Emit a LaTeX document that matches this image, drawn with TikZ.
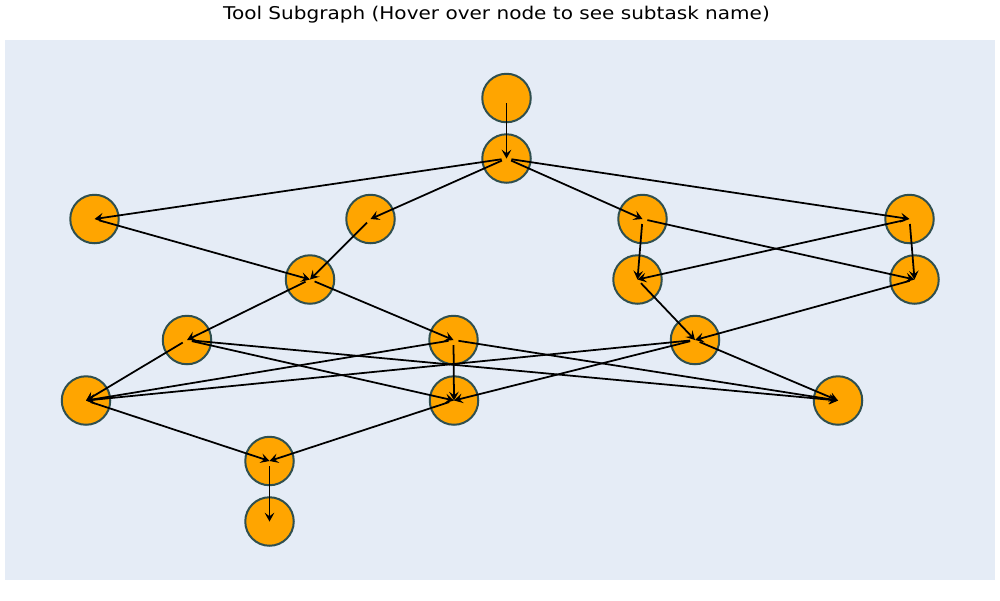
\documentclass[tikz,border=0pt]{standalone}
\usepackage{xcolor}
\usepackage{fontspec}
\newfontfamily\titlefont[FakeStretch=1.14]{DejaVu Sans}
\usetikzlibrary{arrows.meta}
\definecolor{plotbg}{HTML}{E5ECF6}
\definecolor{taskfill}{HTML}{FFA500}
\definecolor{taskline}{HTML}{2F4F4F}

\begin{document}
\begin{tikzpicture}[x=0.02cm, y=-0.02cm]
            \tikzset{task/.style={circle, fill=taskfill, draw=taskline, line width=0.04cm, minimum size=0.97cm, inner sep=0pt}}
            \tikzset{edge/.style={line width=1pt, -{Stealth[length=5pt, width=5.5pt, inset=2pt]}, shorten <=0.1cm}}
            \useasboundingbox (0, 0) rectangle (1000, 600);
            \fill[plotbg] (5, 40) rectangle (995, 580);
            \node[font=\titlefont\fontsize{10pt}{12pt}\selectfont] (title) at (496.5, 14.5) {Tool Subgraph (Hover over node to see subtask name)};
            % subtasks, one row after another
            \node[task] (s1) at (506.5, 98) {};
            \node[task] (s2) at (506.5, 158.5) {};
            \node[task] (s3) at (94.5, 219) {};
            \node[task] (s4) at (370.5, 219) {};
            \node[task] (s5) at (642.5, 219) {};
            \node[task] (s6) at (909.5, 219) {};
            \node[task] (s7) at (310, 279.5) {};
            \node[task] (s8) at (637.5, 279.5) {};
            \node[task] (s9) at (914.5, 279.5) {};
            \node[task] (s10) at (187, 340) {};
            \node[task] (s11) at (453.5, 340) {};
            \node[task] (s12) at (695, 340) {};
            \node[task] (s13) at (86, 400.5) {};
            \node[task] (s14) at (454, 400.5) {};
            \node[task] (s15) at (838, 400.5) {};
            \node[task] (s16) at (269.5, 461) {};
            \node[task] (s17) at (269.5, 521.5) {};
            % dependencies
            \draw[edge] (s1.center) -- (s2.center);
            \draw[edge] (s2.center) -- (s3.center);
            \draw[edge] (s2.center) -- (s4.center);
            \draw[edge] (s2.center) -- (s5.center);
            \draw[edge] (s2.center) -- (s6.center);
            \draw[edge] (s3.center) -- (s7.center);
            \draw[edge] (s4.center) -- (s7.center);
            \draw[edge] (s5.center) -- (s8.center);
            \draw[edge] (s5.center) -- (s9.center);
            \draw[edge] (s6.center) -- (s8.center);
            \draw[edge] (s6.center) -- (s9.center);
            \draw[edge] (s7.center) -- (s10.center);
            \draw[edge] (s7.center) -- (s11.center);
            \draw[edge] (s8.center) -- (s12.center);
            \draw[edge] (s9.center) -- (s12.center);
            \draw[edge] (s10.center) -- (s13.center);
            \draw[edge] (s10.center) -- (s14.center);
            \draw[edge] (s10.center) -- (s15.center);
            \draw[edge] (s11.center) -- (s13.center);
            \draw[edge] (s11.center) -- (s14.center);
            \draw[edge] (s11.center) -- (s15.center);
            \draw[edge] (s12.center) -- (s13.center);
            \draw[edge] (s12.center) -- (s14.center);
            \draw[edge] (s12.center) -- (s15.center);
            \draw[edge] (s13.center) -- (s16.center);
            \draw[edge] (s14.center) -- (s16.center);
            \draw[edge] (s16.center) -- (s17.center);
\end{tikzpicture}
\end{document}
